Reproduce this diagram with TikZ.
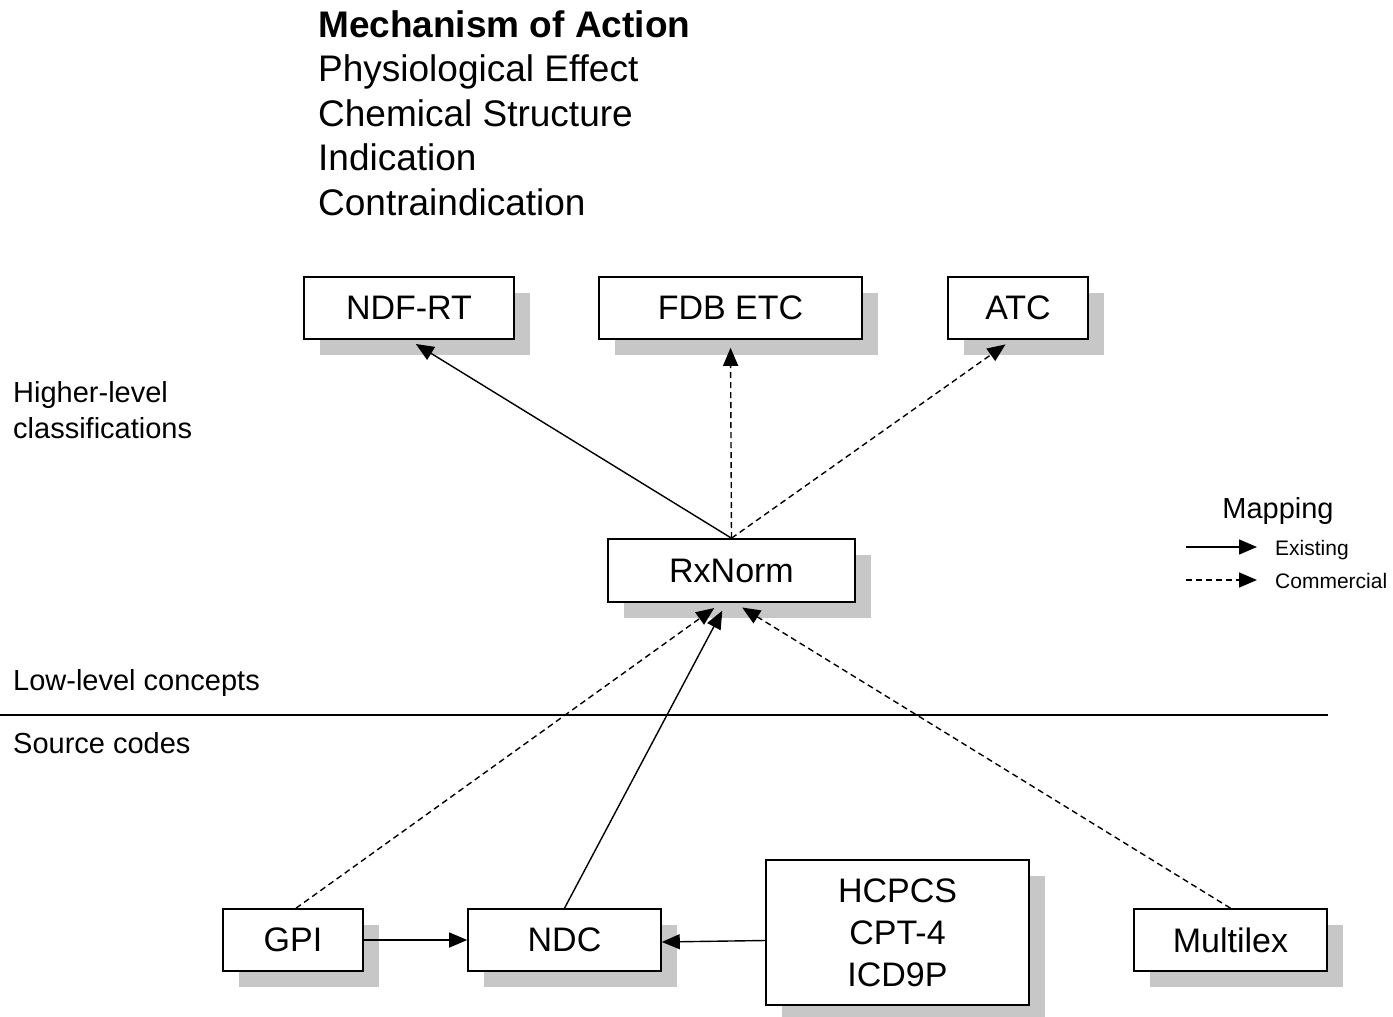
\documentclass[tikz,border=0pt]{standalone}
\usepackage{fontspec}
\setmainfont{Liberation Sans}
\usetikzlibrary{arrows.meta,shadows}

\tikzset{
  codebox/.style={draw=black, line width=1.6pt, fill=white, font=\fontsize{34}{42}\selectfont, align=center,
    drop shadow={shadow xshift=16pt, shadow yshift=-16pt, fill=black!22, opacity=1}},
  maparrow/.style={line width=1.4pt, -{Triangle[length=18pt,width=15pt]}},
  commercial/.style={maparrow, dash pattern=on 6pt off 4pt},
  sidelabel/.style={anchor=base west, inner sep=0pt, font=\fontsize{29}{36}\selectfont, align=left},
}

\begin{document}
\begin{tikzpicture}[x=1pt,y=-1pt]
\useasboundingbox (0,0) rectangle (1393,1017);

\node (Props) [anchor=north west, inner sep=0pt, align=left, font=\fontsize{37}{44.5}\selectfont] at (318,10)
  {\textbf{Mechanism of Action}\\Physiological Effect\\Chemical Structure\\Indication\\Contraindication};

\node (HighLbl) [sidelabel] at (13,438) {Higher-level\\classifications};
\node (LowLbl) [sidelabel] at (13,690) {Low-level concepts};
\node (SrcLbl) [sidelabel] at (13,753) {Source codes};
\coordinate (SepL) at (0,715);
\coordinate (SepR) at (1328,715);
\draw[line width=1.4pt] (SepL)--(SepR);

\node (NDFRT) [codebox, minimum width=210pt, minimum height=62pt] at (409,308) {NDF-RT};
\node (FDB) [codebox, minimum width=263pt, minimum height=62pt] at (730.5,308) {FDB ETC};
\node (ATC) [codebox, minimum width=140pt, minimum height=62pt] at (1018,308) {ATC};
\node (RxNorm) [codebox, minimum width=247pt, minimum height=63pt] at (731.5,570.5) {RxNorm};
\node (GPI) [codebox, minimum width=140pt, minimum height=62pt] at (293,940) {GPI};
\node (NDC) [codebox, minimum width=193pt, minimum height=62pt] at (564.5,940) {NDC};
\node (HCPCS) [codebox, minimum width=263pt, minimum height=145pt] at (897.5,932.5) {HCPCS\\CPT-4\\ICD9P};
\node (Multilex) [codebox, minimum width=193pt, minimum height=62pt] at (1230.5,940) {Multilex};

\draw[maparrow, shorten >=8pt] (RxNorm.north)--(NDFRT.south);
\draw[commercial, shorten >=8pt] (RxNorm.north)--(FDB.south);
\draw[commercial, shorten >=8pt] (RxNorm.north)--([xshift=-6pt]ATC.south);
\draw[commercial, shorten >=9pt] ([xshift=3pt]GPI.north)--([xshift=-10pt]RxNorm.south);
\draw[maparrow, shorten >=9pt] (NDC.north)--([xshift=-5pt]RxNorm.south);
\draw[commercial, shorten >=9pt] (Multilex.north)--([xshift=3pt]RxNorm.south);
\draw[maparrow] (GPI.east)--(NDC.west);
\draw[maparrow] ([yshift=-8pt]HCPCS.west)--([yshift=-2pt]NDC.east);

\node (MapLbl) [anchor=base, inner sep=0pt, font=\fontsize{29}{36}\selectfont] at (1278,518) {Mapping};
\coordinate (ExA) at (1186,547);
\coordinate (ExB) at (1257,547);
\coordinate (CoA) at (1186,580);
\coordinate (CoB) at (1257,580);
\draw[maparrow] (ExA)--(ExB);
\draw[commercial] (CoA)--(CoB);
\node (ExLbl) [anchor=base west, inner sep=0pt, font=\fontsize{21}{25}\selectfont] at (1275,555) {Existing};
\node (CoLbl) [anchor=base west, inner sep=0pt, font=\fontsize{21}{25}\selectfont] at (1275,588) {Commercial};
\end{tikzpicture}
\end{document}
